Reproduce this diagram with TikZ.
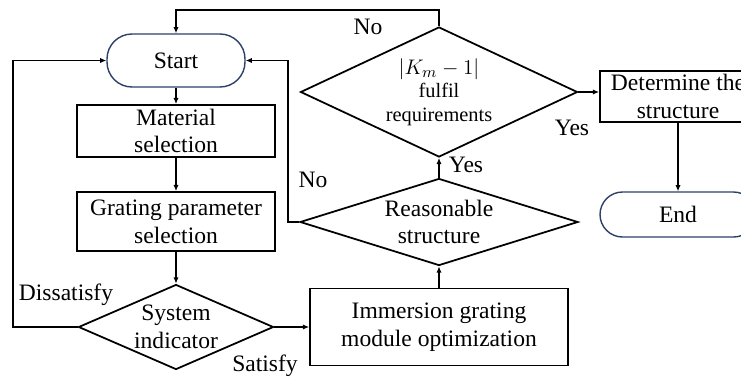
\documentclass[tikz,border=0pt]{standalone}
\usepackage{fontspec}
\setmainfont{Liberation Serif}
\usetikzlibrary{shapes.geometric,arrows.meta}

\begin{document}
\begin{tikzpicture}[
        scale=1,
        terminal/.style={rectangle, rounded corners=0.5cm, draw=myblue, line width=0.8pt, align=center, font=\fontsize{13.4}{15.8}\selectfont},
        process/.style={rectangle, draw=black, line width=1pt, align=center, inner sep=0pt, font=\fontsize{13.4}{15.8}\selectfont},
        decision/.style={diamond, draw=black, line width=1pt, align=center, inner sep=0pt, font=\fontsize{13.4}{15.8}\selectfont},
        label_node/.style={font=\fontsize{13.4}{15.8}\selectfont},
        edge/.style={line width=1pt, draw=black, -{Latex[length=3.5pt, width=3pt]}}
    ]

        \definecolor{myblue}{RGB}{44, 64, 104}

        \useasboundingbox (0, 0) rectangle (14.82, 7.58);

        \node[terminal, minimum width=2.76cm, minimum height=1.06cm] (start) at (3.52, 6.37) {Start};
        \node[process, minimum width=3.96cm, minimum height=1.04cm] (mat) at (3.52, 4.96) {Material\\selection};
        \node[process, minimum width=3.96cm, minimum height=1.18cm] (grat) at (3.52, 3.15) {Grating parameter\\selection};
        \node[decision, shape aspect=2.3, minimum width=3.9cm, minimum height=1.7cm] (sys) at (3.52, 1.04) {System\\indicator};

        \node[process, minimum width=5.16cm, minimum height=1.54cm] (imm) at (8.78, 1.04) {Immersion grating\\module optimization};
        \node[decision, shape aspect=2.9, minimum width=5.56cm, minimum height=1.74cm] (reas) at (8.78, 3.14) {Reasonable\\structure};
        \node[decision, shape aspect=2.2, minimum width=5.54cm, minimum height=2.6cm,
              font=\fontsize{11.6}{13.4}\selectfont] (km) at (8.78, 5.74) {\fontsize{13}{13.4}\selectfont$|K_m-1|$\\fulfil\\requirements};

        \node[process, minimum width=3.12cm, minimum height=1.02cm] (det) at (13.56, 5.65) {Determine the\\structure};
        \node[terminal, minimum width=3.12cm, minimum height=0.9cm, rounded corners=0.45cm] (stop) at (13.56, 3.29) {End};

        % turning points of the feedback lines
        \coordinate (toprail) at (8.78, 7.38);
        \coordinate (leftrail) at (0.26, 1.04);
        \coordinate (midrail) at (5.76, 3.14);

        \draw[edge] (start) -- (mat);
        \draw[edge] (mat) -- (grat);
        \draw[edge] (grat) -- (sys);
        \draw[edge] (sys.east) -- (sys.east -| imm.west);
        \draw[edge] (imm) -- (reas);
        \draw[edge] (reas) -- (km);
        \draw[edge] (km.east) -- (km.east -| det.west);
        \draw[edge] (det) -- (stop);

        \draw[edge] (sys.west) -- (leftrail) |- (start.west);
        \draw[edge] (reas.west) -- (midrail) |- (start.east);
        \draw[edge] (km.north) -- (toprail) -| (start.north);

        \node[label_node] at (1.32, 1.68) {Dissatisfy};
        \node[label_node] at (5.30, 0.26) {Satisfy};
        \node[label_node] at (6.26, 3.98) {No};
        \node[label_node] at (9.32, 4.28) {Yes};
        \node[label_node] at (11.44, 5.02) {Yes};
        \node[label_node] at (7.36, 7.04) {No};
    \end{tikzpicture}
\end{document}
